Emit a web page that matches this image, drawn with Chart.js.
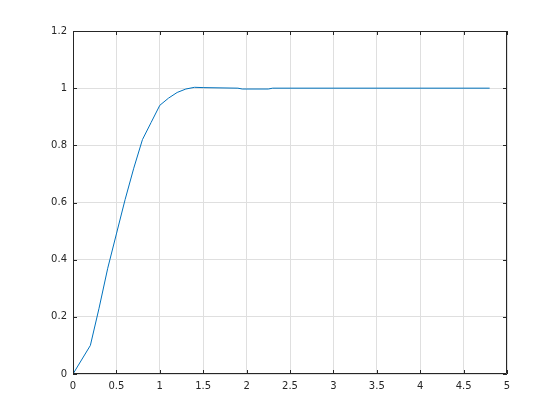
<!DOCTYPE html>
<html>
<head>
<meta charset="utf-8">
<script src="https://cdn.jsdelivr.net/npm/chart.js@4"></script>
<style>
  html, body { margin: 0; padding: 0; background: #fff; }
  #wrap { width: 560px; height: 420px; }
</style>
</head>
<body>
<div id="wrap"><canvas id="myChart" width="560" height="420"></canvas></div>
<script>
// step response
var timeValues = [0, 0.2, 0.3, 0.4, 0.5, 0.6, 0.7, 0.8, 0.9, 1.0, 1.1, 1.2, 1.3, 1.4, 1.5, 1.9, 1.95, 2.25, 2.3, 4.8];
var responseValues = [0, 0.1, 0.23, 0.37, 0.49, 0.61, 0.72, 0.82, 0.88, 0.94, 0.965, 0.985, 0.997, 1.003, 1.002, 1.0, 0.997, 0.997, 1.0, 1.0];
var xTicks = [0, 0.5, 1, 1.5, 2, 2.5, 3, 3.5, 4, 4.5, 5];
var yTicks = [0, 0.2, 0.4, 0.6, 0.8, 1, 1.2];

var points = [];
for (var i = 0; i < timeValues.length; i++) {
    points.push({ x: timeValues[i], y: responseValues[i] });
}

// box round the axes and small inward ticks, like the original figure
var boxPlugin = {
    id: 'box',
    afterDraw: function (chart) {
        var c = chart.ctx;
        var a = chart.chartArea;
        var xs = chart.scales.x;
        var ys = chart.scales.y;
        c.save();
        c.strokeStyle = '#262626';
        c.lineWidth = 1;
        c.beginPath();
        c.rect(a.left + 0.5, a.top + 0.5, a.right - a.left - 1, a.bottom - a.top - 1);
        for (var i = 0; i < xTicks.length; i++) {
            var px = Math.round(xs.getPixelForValue(xTicks[i])) + 0.5;
            c.moveTo(px, a.bottom); c.lineTo(px, a.bottom - 4);
            c.moveTo(px, a.top); c.lineTo(px, a.top + 4);
        }
        for (var j = 0; j < yTicks.length; j++) {
            var py = Math.round(ys.getPixelForValue(yTicks[j])) + 0.5;
            c.moveTo(a.left, py); c.lineTo(a.left + 4, py);
            c.moveTo(a.right, py); c.lineTo(a.right - 4, py);
        }
        c.stroke();
        c.restore();
    }
};

const ctx = document.getElementById('myChart');
new Chart(ctx, {
    type: 'scatter',
    data: {
        datasets: [{
            data: points,
            showLine: true,
            borderColor: '#0072BD',
            borderWidth: 1,
            pointRadius: 0,
            tension: 0,
        }]
    },
    options: {
        responsive: false,
        animation: false,
        layout: { padding: { top: 31, right: 53, left: 0, bottom: 0 } },
        plugins: {
            legend: { display: false },
            tooltip: { enabled: false }
        },
        scales: {
            x: {
                type: 'linear',
                min: 0,
                max: 5,
                afterBuildTicks: function (s) { s.ticks = xTicks.map(function (v) { return { value: v }; }); },
                afterFit: function (s) { s.height = 46; },
                grid: { color: '#dfdfdf', drawTicks: false },
                border: { display: false },
                ticks: {
                    padding: 6,
                    color: '#262626',
                    font: { family: 'DejaVu Sans', size: 10 },
                    callback: function (v) { return String(Number(v.toFixed(1))); }
                }
            },
            y: {
                type: 'linear',
                min: 0,
                max: 1.2,
                afterBuildTicks: function (s) { s.ticks = yTicks.map(function (v) { return { value: v }; }); },
                afterFit: function (s) { s.width = 73; },
                grid: { color: '#dfdfdf', drawTicks: false },
                border: { display: false },
                ticks: {
                    padding: 6,
                    color: '#262626',
                    font: { family: 'DejaVu Sans', size: 10 },
                    callback: function (v) { return String(Number(v.toFixed(1))); }
                }
            }
        }
    },
    plugins: [boxPlugin]
});
</script>
</body>
</html>
